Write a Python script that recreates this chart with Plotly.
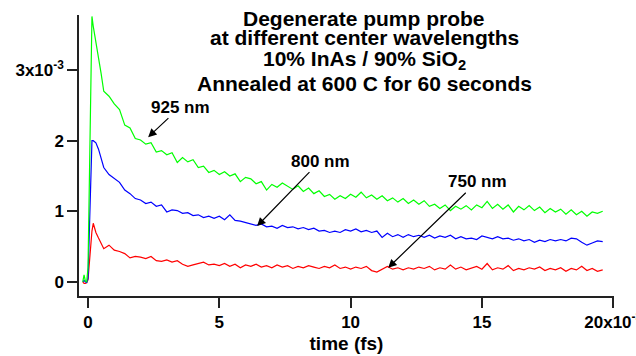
import plotly.graph_objects as go

# time axis (x10^-3 fs units as labelled)
time = [-0.2, -0.15, -0.1, -0.05, 0.0, 0.05, 0.1, 0.15, 0.2, 0.3, 0.4, 0.5,
        0.6, 0.8, 1.0, 1.2, 1.4, 1.6, 1.8, 2.0, 2.2, 2.4, 2.6, 2.8, 3.0, 3.2, 3.4, 3.6, 3.8,
        4.0, 4.2, 4.4, 4.6, 4.8, 5.0, 5.2, 5.4, 5.6, 5.8, 6.0, 6.2, 6.4, 6.6, 6.8,
        7.0, 7.2, 7.4, 7.6, 7.8, 8.0, 8.2, 8.4, 8.6, 8.8, 9.0, 9.2, 9.4, 9.6, 9.8,
        10.0, 10.2, 10.4, 10.6, 10.8, 11.0, 11.2, 11.4, 11.6, 11.8, 12.0, 12.2, 12.4, 12.6, 12.8,
        13.0, 13.2, 13.4, 13.6, 13.8, 14.0, 14.2, 14.4, 14.6, 14.8, 15.0, 15.2, 15.4, 15.6, 15.8,
        16.0, 16.2, 16.4, 16.6, 16.8, 17.0, 17.2, 17.4, 17.6, 17.8, 18.0, 18.2, 18.4, 18.6, 18.8,
        19.0, 19.2, 19.4, 19.6]

# signals (x10^-3)
nm925 = [0.0, 0.1, 0.01, 0.0, 0.2, 1.6, 3.1, 3.76, 3.62, 3.40, 3.22, 2.95,
         2.70, 2.63, 2.52, 2.44, 2.22, 2.18, 2.03, 2.01, 1.95, 1.97, 1.84, 1.86, 1.80, 1.83, 1.69, 1.76, 1.70,
         1.73, 1.62, 1.64, 1.55, 1.58, 1.52, 1.56, 1.50, 1.53, 1.42, 1.48, 1.46, 1.39, 1.42, 1.30,
         1.38, 1.34, 1.40, 1.35, 1.31, 1.36, 1.28, 1.33, 1.25, 1.29, 1.21, 1.24, 1.17, 1.22, 1.18,
         1.24, 1.20, 1.27, 1.19, 1.23, 1.17, 1.22, 1.15, 1.19, 1.13, 1.18, 1.11, 1.16, 1.10, 1.15,
         1.07, 1.10, 1.04, 1.09, 1.01, 1.07, 1.03, 1.08, 1.02, 1.09, 1.05, 1.14, 1.04, 1.10, 1.03,
         1.09, 0.99, 1.07, 1.02, 1.08, 1.01, 1.06, 0.98, 1.04, 0.99, 1.03, 0.96, 1.02, 0.95, 1.00,
         0.93, 0.99, 0.97, 1.00]

nm800 = [0.0, 0.02, 0.0, -0.01, 0.05, 0.7, 1.6, 2.0, 2.0, 1.97, 1.88, 1.76,
         1.62, 1.52, 1.46, 1.41, 1.30, 1.25, 1.18, 1.16, 1.11, 1.13, 1.07, 1.09, 0.99, 1.02, 1.01, 0.97, 0.98,
         0.94, 0.95, 0.91, 0.93, 0.90, 0.93, 0.88, 0.95, 0.87, 0.86, 0.84, 0.82, 0.80, 0.82, 0.78,
         0.79, 0.76, 0.80, 0.77, 0.78, 0.75, 0.77, 0.74, 0.76, 0.72, 0.73, 0.70, 0.72, 0.70, 0.74,
         0.72, 0.75, 0.71, 0.73, 0.70, 0.72, 0.63, 0.69, 0.64, 0.67, 0.63, 0.67, 0.64, 0.66, 0.63,
         0.66, 0.62, 0.65, 0.63, 0.66, 0.61, 0.64, 0.61, 0.62, 0.60, 0.65, 0.63, 0.61, 0.64, 0.61,
         0.62, 0.59, 0.61, 0.58, 0.60, 0.56, 0.59, 0.57, 0.60, 0.58, 0.60, 0.58, 0.62, 0.61, 0.56,
         0.52, 0.55, 0.58, 0.57]

nm750 = [0.0, -0.02, -0.02, -0.01, 0.03, 0.25, 0.55, 0.72, 0.83, 0.70, 0.62, 0.55,
         0.47, 0.52, 0.45, 0.43, 0.40, 0.34, 0.36, 0.35, 0.33, 0.36, 0.30, 0.29, 0.31, 0.28, 0.30, 0.25, 0.22,
         0.24, 0.26, 0.28, 0.24, 0.25, 0.23, 0.26, 0.22, 0.25, 0.20, 0.24, 0.22, 0.25, 0.21, 0.23,
         0.20, 0.24, 0.21, 0.23, 0.19, 0.22, 0.20, 0.23, 0.21, 0.19, 0.22, 0.20, 0.24, 0.19, 0.21,
         0.18, 0.21, 0.19, 0.22, 0.16, 0.14, 0.18, 0.22, 0.18, 0.20, 0.17, 0.20, 0.18, 0.21, 0.19,
         0.22, 0.17, 0.20, 0.18, 0.24, 0.18, 0.21, 0.17, 0.19, 0.22, 0.18, 0.26, 0.17, 0.20, 0.18,
         0.23, 0.16, 0.19, 0.17, 0.20, 0.18, 0.21, 0.16, 0.19, 0.17, 0.20, 0.15, 0.19, 0.17, 0.22,
         0.16, 0.19, 0.15, 0.17]

x_tickvals = [0, 5, 10, 15, 20]
x_ticktext = ["0", "5", "10", "15", "20x10<sup>-3</sup>"]
y_tickvals = [0, 1, 2, 3]
y_ticktext = ["0", "1", "2", "3x10<sup>-3</sup>"]

title_lines = ["Degenerate pump probe", "at different center wavelengths",
               "10% InAs / 90% SiO<sub>2</sub>", "Annealed at 600 C for 60 seconds"]

FONT = "Liberation Sans, Arial, sans-serif"

fig = go.Figure()
fig.add_trace(go.Scatter(x=time, y=nm750, mode="lines", line=dict(color="rgb(255,0,0)", width=1.2), name="750 nm"))
fig.add_trace(go.Scatter(x=time, y=nm800, mode="lines", line=dict(color="rgb(0,0,255)", width=1.2), name="800 nm"))
fig.add_trace(go.Scatter(x=time, y=nm925, mode="lines", line=dict(color="rgb(0,255,0)", width=1.2), name="925 nm"))

axis_common = dict(showgrid=False, zeroline=False, showline=True, linecolor="#222", linewidth=1.5,
                   ticks="outside", tickcolor="#222", tickwidth=1.5, ticklen=10,
                   automargin=False, ticklabeloverflow="allow",
                   tickfont=dict(family=FONT, size=17, color="black", weight="bold"))

fig.update_layout(
    width=636, height=356,
    margin=dict(l=79, r=22, t=15, b=60),
    paper_bgcolor="white", plot_bgcolor="white",
    showlegend=False,
    font=dict(family=FONT, color="black"),
    xaxis=dict(range=[-0.343, 20.03], tickvals=x_tickvals, ticktext=x_ticktext,
               title=dict(text="time (fs)", font=dict(family=FONT, size=19, weight="bold"), standoff=6),
               **axis_common),
    yaxis=dict(range=[-0.2, 3.78], tickvals=y_tickvals, ticktext=y_ticktext, **axis_common),
)

title_y = [0.989, 0.919, 0.841, 0.756]
for txt, yy in zip(title_lines, title_y):
    fig.add_annotation(text=txt, xref="paper", yref="paper", x=0.533, y=yy,
                       xanchor="center", yanchor="middle", showarrow=False,
                       font=dict(family=FONT, size=21, color="black", weight="bold"))

# (label, arrow tip x, tip y, label offset px dx, dy)
labels = [("925 nm", 2.29, 2.05, 32, -30),
          ("800 nm", 6.44, 0.79, 63, -65),
          ("750 nm", 11.43, 0.20, 89, -86)]
for txt, tipx, tipy, dx, dy in labels:
    fig.add_annotation(text=txt, x=tipx, y=tipy, xref="x", yref="y", ax=dx, ay=dy,
                       showarrow=True, arrowhead=2, arrowsize=1.4, arrowwidth=1.2, arrowcolor="black",
                       font=dict(family=FONT, size=17, color="black", weight="bold"))

fig.write_html("out.html")
